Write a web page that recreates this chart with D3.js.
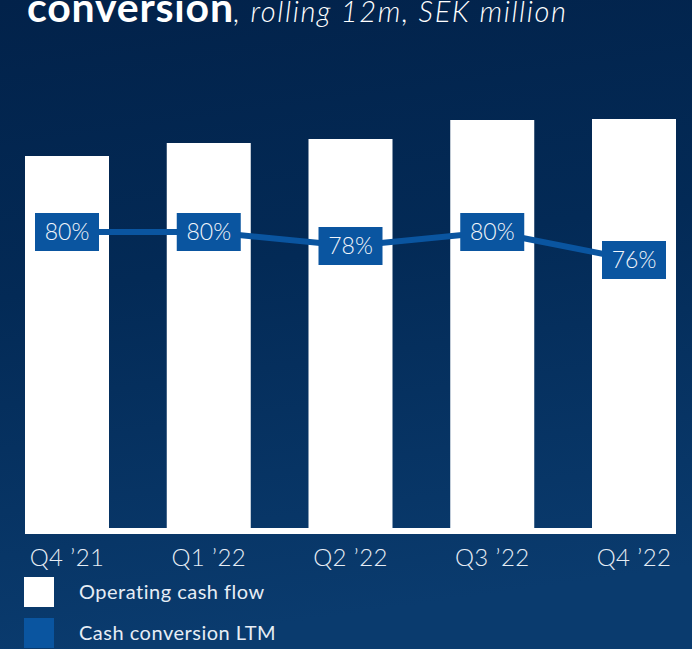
<!DOCTYPE html>
<html>
<head>
<meta charset="utf-8">
<script src="https://cdn.jsdelivr.net/npm/d3@7"></script>
<style>
  html, body { margin: 0; padding: 0; background: #03264e; }
  svg { display: block; }
</style>
</head>
<body>
<svg id="chart" width="692" height="649"></svg>
<script>
// Quarterly categories
const quarters = ["Q4 \u201921", "Q1 \u201922", "Q2 \u201922", "Q3 \u201922", "Q4 \u201922"];
// Operating cash flow, rolling 12m, SEK million
const operatingCashFlow = [1890, 1955, 1975, 2070, 2075];
// Cash conversion LTM, percent
const cashConversion = [80, 80, 78, 80, 76];

const W = 692, H = 649;
const svg = d3.select("#chart");

// Background gradient
const defs = svg.append("defs");
const bg = defs.append("linearGradient")
  .attr("id", "bg").attr("x1", 0).attr("y1", 0).attr("x2", 0.15).attr("y2", 1);
bg.append("stop").attr("offset", "0%").attr("stop-color", "#02224a");
bg.append("stop").attr("offset", "45%").attr("stop-color", "#032a56");
bg.append("stop").attr("offset", "100%").attr("stop-color", "#0a3b6e");
svg.append("rect").attr("width", W).attr("height", H).attr("fill", "url(#bg)");

// Title (runs off the top edge of the frame)
const title = svg.append("text")
  .attr("x", 27).attr("y", 22)
  .attr("fill", "#ffffff")
  .style("font-family", "Lato, 'Noto Sans', sans-serif");
title.append("tspan")
  .style("font-weight", 700).style("font-size", "41px")
  .style("letter-spacing", "0.8px")
  .text("conversion");
title.append("tspan")
  .style("font-weight", 300).style("font-style", "italic").style("font-size", "29px")
  .style("letter-spacing", "1.6px")
  .text(", rolling 12m, SEK million");

// Scales
const x = d3.scaleBand()
  .domain(quarters)
  .range([25, 676])
  .paddingInner(0.4074)
  .paddingOuter(0);

const y = d3.scaleLinear()
  .domain([0, 2200])
  .range([534, 94]);

const yPct = d3.scaleLinear()
  .domain([76, 80])
  .range([260, 232]);

const blue = "#0a55a0";

// Bars
svg.append("g").selectAll("rect")
  .data(operatingCashFlow)
  .join("rect")
  .attr("x", (d, i) => x(quarters[i]))
  .attr("y", d => y(d))
  .attr("width", x.bandwidth())
  .attr("height", d => y(0) - y(d))
  .attr("fill", "#ffffff");

// Baseline
svg.append("line")
  .attr("x1", x.range()[0]).attr("x2", x.range()[1])
  .attr("y1", y(0) - 3).attr("y2", y(0) - 3)
  .attr("stroke", "#ffffff").attr("stroke-width", 6);

// Category axis
const xAxis = d3.axisBottom(x).tickSize(0).tickPadding(0);
const gx = svg.append("g")
  .attr("transform", `translate(0, ${y(0)})`)
  .call(xAxis);
gx.select(".domain").remove();
gx.selectAll("text")
  .attr("dy", null)
  .attr("y", 32)
  .attr("fill", "#e6edf5")
  .style("font-family", "Lato, sans-serif")
  .style("font-weight", 300)
  .style("font-size", "24px")
  .style("letter-spacing", "0.4px");

// Cash conversion line
const cx = i => x(quarters[i]) + x.bandwidth() / 2;
const line = d3.line()
  .x((d, i) => cx(i))
  .y(d => yPct(d));
svg.append("path")
  .datum(cashConversion)
  .attr("d", line)
  .attr("fill", "none")
  .attr("stroke", blue)
  .attr("stroke-width", 6);

// Value boxes
const boxW = 64, boxH = 38;
const labels = svg.append("g").selectAll("g")
  .data(cashConversion)
  .join("g")
  .attr("transform", (d, i) => `translate(${cx(i)}, ${yPct(d)})`);
labels.append("rect")
  .attr("x", -boxW / 2).attr("y", -boxH / 2)
  .attr("width", boxW).attr("height", boxH)
  .attr("fill", blue);
labels.append("text")
  .attr("text-anchor", "middle")
  .attr("dy", "0.36em")
  .attr("fill", "#f2f6fb")
  .style("font-family", "Lato, sans-serif")
  .style("font-weight", 300)
  .style("font-size", "23px")
  .text(d => d + "%");

// Legend
const legendItems = [
  { name: "Operating cash flow", color: "#ffffff" },
  { name: "Cash conversion LTM", color: blue }
];
const lg = svg.append("g").selectAll("g")
  .data(legendItems)
  .join("g")
  .attr("transform", (d, i) => `translate(24, ${577 + i * 41})`);
lg.append("rect")
  .attr("width", 30).attr("height", 30)
  .attr("fill", d => d.color);
lg.append("text")
  .attr("x", 55).attr("y", 22)
  .attr("fill", "#e6edf5")
  .style("font-family", "Lato, sans-serif")
  .style("font-weight", 400)
  .style("font-size", "20px")
  .style("letter-spacing", "0.5px")
  .text(d => d.name);
</script>
</body>
</html>
